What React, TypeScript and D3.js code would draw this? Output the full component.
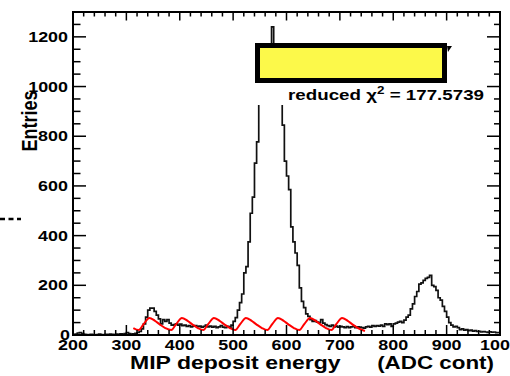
import React from "react";
import * as d3 from "d3";

// Histogram: bins of width 4 starting at 200
const binStart = 200;
const binWidth = 4;
const counts = [
  2, 4, 8, 10, 6, 3, 2, 1, 3, 2,
  1, 2, 4, 2, 1, 3, 2, 4, 3, 2,
  4, 3, 5, 4, 6, 10, 6, 4, 5, 7,
  10, 14, 25, 45, 72, 100, 108, 108, 95, 80,
  65, 45, 62, 55, 62, 48, 40, 42, 45, 40,
  44, 38, 40, 35, 38, 33, 36, 38, 34, 36,
  32, 35, 40, 33, 36, 32, 35, 30, 33, 38,
  32, 30, 35, 32, 40, 55, 70, 100, 130, 165,
  250, 275, 375, 490, 555, 692, 777, 960, 1000, 1060,
  1100, 1120, 1140, 1240, 1140, 1110, 1050, 970, 845, 700,
  640, 585, 435, 375, 330, 280, 190, 135, 110, 85,
  75, 62, 55, 58, 52, 50, 62, 48, 42, 38,
  35, 40, 33, 36, 32, 35, 33, 30, 34, 30,
  33, 35, 30, 33, 32, 30, 28, 33, 35, 32,
  38, 35, 38, 36, 40, 35, 45, 42, 45, 35,
  45, 48, 52, 55, 50, 60, 72, 80, 105, 125,
  155, 175, 205, 210, 220, 228, 232, 240, 200, 195,
  180, 150, 140, 115, 95, 72, 50, 40, 33, 35,
  30, 22, 25, 20, 22, 18, 20, 16, 18, 14,
  15, 12, 14, 12, 10, 13, 11, 12, 9, 10,
];

// Red fit curve (sampled points)
const fitX = [313, 323, 333, 343, 353, 363, 373, 384, 394, 404, 414, 424, 434, 444, 454, 464, 474, 484, 494, 504, 514, 524, 534, 544, 554, 564, 574, 584, 594, 604, 614, 624, 634, 644, 654, 664, 674, 684, 694, 704, 714, 724, 734, 747];
const fitY = [28, 20, 46, 68, 58, 42, 28, 20, 46, 68, 58, 42, 28, 20, 46, 68, 58, 42, 28, 20, 46, 68, 58, 42, 28, 20, 46, 68, 58, 42, 28, 20, 46, 68, 58, 42, 28, 20, 46, 68, 58, 42, 28, 16];

const xTickLabels = [200, 300, 400, 500, 600, 700, 800, 900, 1000];
const yTickLabels = [0, 200, 400, 600, 800, 1000, 1200];
const xTitle = "MIP deposit energy";
const xUnit = "(ADC cont)";
const yTitle = "Entries";
const statText = "reduced ";
const statValue = " = 177.5739";

const W = 510, H = 376;
const L = 73, R = 500, T = 12, B = 335;
const FONT = "'Liberation Sans', Arial, Helvetica, sans-serif";
const SX = 1.28;

function Txt({ x, y, size, anchor = "start", children }: any) {
  return (
    <text
      transform={`translate(${x},${y}) scale(${SX},1)`}
      fontFamily={FONT}
      fontWeight="bold"
      fontSize={size}
      textAnchor={anchor}
      fill="#000"
    >
      {children}
    </text>
  );
}

export default function App() {
  const x = d3.scaleLinear().domain([200, 1000]).range([L, R]);
  const y = d3.scaleLinear().domain([0, 1300]).range([B, T]);

  const pts: [number, number][] = counts.map((c, i) => [binStart + i * binWidth, c]);
  pts.push([binStart + counts.length * binWidth, counts[counts.length - 1]]);
  const histPath = d3
    .line<[number, number]>()
    .x((d) => x(d[0]))
    .y((d) => y(d[1]))
    .curve(d3.curveStepAfter)(pts) as string;

  const fitPts: [number, number][] = fitX.map((v, i) => [v, fitY[i]]);
  const fitPath = d3
    .line<[number, number]>()
    .x((d) => x(d[0]))
    .y((d) => y(d[1]))
    .curve(d3.curveMonotoneX)(fitPts) as string;

  const xMinor = d3.range(200, 1001, 20);
  const yMinor = d3.range(0, 1301, 50);

  return (
    <svg
      width={W}
      height={H}
      style={{ position: "absolute", left: 0, top: 0, background: "#fff" }}
    >
      <rect x={0} y={0} width={W} height={H} fill="#fff" />
      {/* histogram */}
      <path d={histPath} fill="none" stroke="#111" strokeWidth={1.7} />
      {/* fit */}
      <path d={fitPath} fill="none" stroke="#ff0000" strokeWidth={2} />

      {/* stats area covering histogram */}
      <rect x={252} y={83} width={234} height={22} fill="#fff" />
      <rect x={257.5} y={45.5} width={187} height={35} fill="#fcf94a" stroke="#000" strokeWidth={5} />
      <path d="M447,46 L452,46 L448,52 Z" fill="#000" />
      <text
        transform={`translate(288,100) scale(1.34,1)`}
        fontFamily={FONT}
        fontWeight="bold"
        fontSize={14}
      >
        {statText}
        <tspan>χ</tspan>
        <tspan fontSize={10} dy={-6}>2</tspan>
        <tspan dy={6}>{statValue}</tspan>
      </text>

      {/* frame */}
      <rect x={L} y={T} width={R - L} height={B - T} fill="none" stroke="#000" strokeWidth={2} />

      {/* x ticks */}
      {xMinor.map((v) => {
        const major = v % 100 === 0;
        return (
          <g key={"xt" + v}>
            <line x1={x(v)} x2={x(v)} y1={B} y2={B - (major ? 10 : 5)} stroke="#000" strokeWidth={1.5} />
            <line x1={x(v)} x2={x(v)} y1={T} y2={T + (major ? 8.5 : 4.5)} stroke="#000" strokeWidth={1.5} />
          </g>
        );
      })}
      {/* y ticks */}
      {yMinor.map((v) => {
        const major = v % 200 === 0;
        return (
          <g key={"yt" + v}>
            <line x1={L} x2={L + (major ? 13 : 7.5)} y1={y(v)} y2={y(v)} stroke="#000" strokeWidth={1.5} />
            <line x1={R} x2={R - (major ? 13 : 6)} y1={y(v)} y2={y(v)} stroke="#000" strokeWidth={1.5} />
          </g>
        );
      })}

      {/* x tick labels */}
      {xTickLabels.map((v) => (
        <Txt key={"xl" + v} x={x(v)} y={350} size={14} anchor="middle">
          {v}
        </Txt>
      ))}
      {/* y tick labels */}
      {yTickLabels.map((v) => (
        <Txt key={"yl" + v} x={v === 0 ? 70 : 68} y={y(v) + 5} size={14} anchor="end">
          {v}
        </Txt>
      ))}

      {/* axis titles */}
      <Txt x={130} y={369} size={18}>{xTitle}</Txt>
      <Txt x={494} y={369} size={17.5} anchor="end">{xUnit}</Txt>
      <text
        transform={`translate(37,121) rotate(-90) scale(1,1.2)`}
        fontFamily={FONT}
        fontWeight="bold"
        fontSize={18}
        textAnchor="middle"
      >
        {yTitle}
      </text>

      {/* stray dashes at left */}
      <line x1={0} x2={21} y1={219} y2={219} stroke="#000" strokeWidth={2.5} strokeDasharray="5,3.5" />
    </svg>
  );
}
